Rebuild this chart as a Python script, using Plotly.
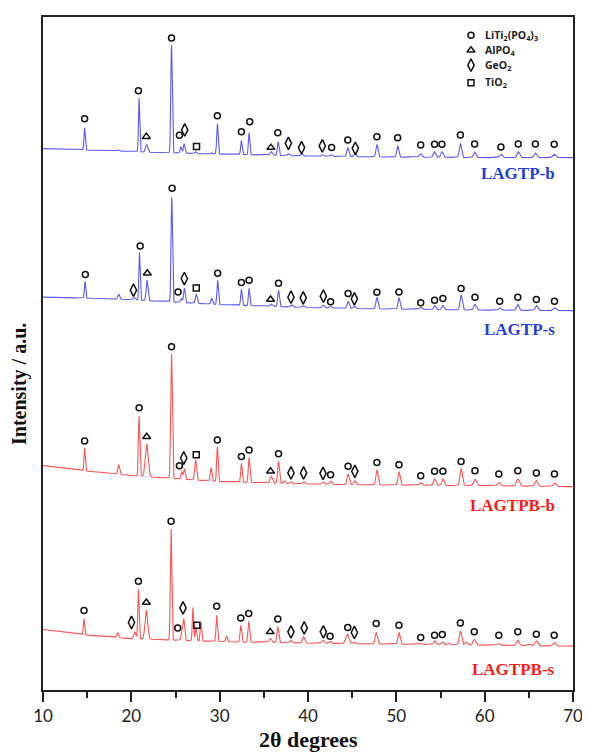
import numpy as np
import plotly.graph_objects as go

# ---------------- data (2theta in degrees, intensity in arbitrary units) ----------------
TWO_THETA_RANGE = [10, 70]
X_TICKS = [10, 20, 30, 40, 50, 60, 70]

SERIES_NAMES = ["LAGTP-b", "LAGTP-s", "LAGTPB-b", "LAGTPB-s"]

# baselines (2theta, intensity) per pattern
BASE_2THETA = [10, 15, 20, 25, 30, 40, 50, 60, 70]
LAGTP_b_base = [543, 541.5, 540, 538.5, 537.5, 535.5, 534.5, 534, 534]
LAGTP_s_base = [394, 393, 391.5, 389, 386.5, 383.5, 382, 381, 380.5]
LAGTPB_b_base = [225, 219.5, 215, 212, 209, 206.5, 205.5, 205, 204]
LAGTPB_s_base = [60.7, 55, 51.5, 50, 48.5, 47, 46, 45, 44]

# peaks: (2theta, apex intensity, width)
LAGTP_b_peaks = [(14.71, 564, 0.07), (18.52, 542, 0.1), (20.88, 594, 0.07), (21.72, 547, 0.12),
                 (24.55, 647, 0.08), (25.6, 545, 0.09), (25.97, 548, 0.09), (27.27, 540, 0.1),
                 (29.03, 539, 0.1), (29.74, 568, 0.08), (32.46, 551, 0.08), (33.33, 559, 0.08),
                 (35.83, 540, 0.12), (36.62, 550, 0.09), (37.78, 538, 0.12), (39.27, 537.5, 0.12),
                 (41.62, 537, 0.12), (42.6, 537, 0.12), (44.5, 544, 0.11), (45.3, 538, 0.11),
                 (47.8, 547, 0.11), (50.15, 546, 0.11), (52.73, 538, 0.13), (54.3, 540, 0.12),
                 (55.16, 540, 0.12), (57.25, 548, 0.12), (58.86, 539.5, 0.13), (61.84, 537.5, 0.14),
                 (63.8, 540, 0.14), (65.74, 538.5, 0.14), (67.87, 537.5, 0.15)]
LAGTP_s_peaks = [(14.76, 410, 0.07), (18.56, 397, 0.1), (20.3, 394, 0.12), (20.92, 439, 0.07),
                 (21.78, 411, 0.1), (24.58, 494, 0.08), (25.66, 393, 0.09), (26.0, 403, 0.09),
                 (27.35, 397, 0.1), (29.1, 393, 0.09), (29.77, 411, 0.08), (32.46, 402, 0.08),
                 (33.33, 403, 0.08), (35.83, 387, 0.12), (36.66, 401, 0.09), (38.15, 386.5, 0.12),
                 (39.46, 386, 0.12), (41.7, 386, 0.12), (42.5, 385, 0.12), (44.54, 390, 0.11),
                 (45.25, 385, 0.11), (47.8, 394, 0.11), (50.3, 393.5, 0.11), (52.76, 384, 0.13),
                 (54.33, 385.7, 0.12), (55.27, 385.7, 0.12), (57.33, 396, 0.12), (58.9, 386.7, 0.13),
                 (61.7, 383.3, 0.14), (63.75, 386.7, 0.14), (65.85, 385.7, 0.14), (67.9, 383.3, 0.15)]
LAGTPB_b_peaks = [(14.71, 243, 0.07), (18.56, 226, 0.1), (20.88, 275, 0.08), (21.74, 247, 0.16),
                  (24.55, 337, 0.09), (25.7, 219, 0.09), (26.0, 222, 0.09), (27.27, 231, 0.1),
                  (29.03, 223, 0.09), (29.74, 244, 0.08), (32.46, 227.3, 0.08), (33.33, 233.3, 0.09),
                  (35.83, 214.3, 0.13), (36.66, 229.3, 0.1), (37.33, 210, 0.1), (38.07, 209, 0.12),
                  (39.5, 209, 0.12), (41.7, 209, 0.12), (42.56, 209.7, 0.12), (44.54, 216.7, 0.12),
                  (45.3, 210, 0.11), (47.8, 220.7, 0.12), (50.3, 219, 0.12), (52.76, 208.3, 0.13),
                  (54.33, 211.7, 0.12), (55.27, 211.7, 0.12), (57.33, 222.3, 0.13), (58.9, 211.7, 0.14),
                  (61.6, 208.3, 0.14), (63.75, 211.7, 0.15), (65.85, 210, 0.15), (67.9, 207.7, 0.15)]
LAGTPB_s_peaks = [(14.64, 71.7, 0.07), (18.45, 57.7, 0.09), (20.4, 58.3, 0.12), (20.8, 100.7, 0.07),
                  (21.7, 80, 0.15), (24.5, 161.7, 0.08), (25.7, 56.7, 0.09), (25.93, 71.7, 0.09),
                  (26.97, 82.7, 0.07), (27.3, 63.3, 0.08), (27.87, 68.3, 0.08), (29.66, 75, 0.08),
                  (30.78, 54, 0.09), (32.39, 65, 0.09), (33.29, 69, 0.09), (35.72, 51.7, 0.13),
                  (36.58, 63.3, 0.1), (38.07, 50, 0.12), (39.5, 53.3, 0.12), (41.7, 50, 0.12),
                  (42.5, 49, 0.12), (44.45, 56, 0.18), (45.25, 48.3, 0.11), (47.72, 57.7, 0.12),
                  (50.3, 57.7, 0.12), (52.76, 46.7, 0.13), (54.33, 49.3, 0.12), (55.2, 48.3, 0.12),
                  (55.95, 47, 0.12), (57.25, 59.3, 0.13), (57.9, 48, 0.12), (58.82, 50.7, 0.14),
                  (61.6, 46.7, 0.14), (63.75, 50, 0.15), (65.0, 46, 0.14), (65.85, 49.3, 0.15),
                  (67.87, 47.7, 0.15)]

# phase markers: (2theta, intensity)
LAGTP_b_LTP = [(14.71, 573), (20.8, 601), (24.55, 654), (25.44, 556.3), (29.74, 576), (32.46, 560),
               (33.4, 570), (36.58, 559), (42.67, 544), (44.5, 551.7), (47.8, 555), (50.15, 554),
               (52.76, 546.7), (54.33, 547.3), (55.16, 547.3), (57.25, 556.7), (58.86, 547.7),
               (61.84, 544.7), (63.8, 547.7), (65.74, 547.7), (67.87, 547.3)]
LAGTP_b_AlPO4 = [(21.7, 555), (35.8, 544)]
LAGTP_b_GeO2 = [(26.04, 561.7), (37.78, 548.3), (39.27, 544), (41.62, 545.7), (45.36, 543.3)]
LAGTP_b_TiO2 = [(27.38, 545)]

LAGTP_s_LTP = [(14.79, 416.7), (21.0, 445.3), (24.62, 503.3), (25.29, 399.3), (29.77, 418),
               (32.46, 408.7), (33.33, 411), (36.66, 408), (42.56, 389.3), (44.54, 397.7), (47.8, 399),
               (50.3, 399.3), (52.76, 388.3), (54.33, 391), (55.27, 392.7), (57.33, 402.7), (58.9, 394),
               (61.7, 390), (63.75, 394), (65.85, 391.7), (67.9, 390)]
LAGTP_s_AlPO4 = [(21.81, 418), (35.76, 391.7)]
LAGTP_s_GeO2 = [(20.24, 401), (26.0, 412.7), (38.07, 394), (39.46, 393.3), (41.74, 395), (45.25, 392.3)]
LAGTP_s_TiO2 = [(27.35, 403.3)]

LAGTPB_b_LTP = [(14.71, 249.7), (20.88, 283), (24.55, 344.3), (25.44, 225), (29.74, 250.7),
                (32.46, 234.3), (33.33, 240.7), (36.66, 237), (42.56, 216), (44.54, 224.3),
                (47.8, 228.3), (50.3, 226), (52.76, 215), (54.33, 219.3), (55.27, 219.3),
                (57.33, 229.3), (58.9, 220), (61.6, 216.7), (63.75, 220), (65.85, 217.7), (67.9, 216.7)]
LAGTPB_b_AlPO4 = [(21.74, 254), (35.76, 219.3)]
LAGTPB_b_GeO2 = [(25.93, 232.7), (38.07, 217.7), (39.5, 217.7), (41.7, 217.3), (45.3, 219.3)]
LAGTPB_b_TiO2 = [(27.35, 236)]

LAGTPB_s_LTP = [(14.64, 79.7), (20.8, 109), (24.5, 169.3), (25.25, 62.3), (29.66, 84), (32.39, 72.3),
                (33.29, 76.7), (36.58, 71.3), (42.5, 54), (44.5, 62.7), (47.72, 66.7), (50.3, 65),
                (52.76, 52.7), (54.33, 55), (55.2, 55.7), (57.25, 67.3), (58.82, 58.3), (61.6, 55),
                (63.75, 58.3), (65.85, 56), (67.87, 55)]
LAGTPB_s_AlPO4 = [(21.7, 87.7), (35.72, 58.3)]
LAGTPB_s_GeO2 = [(20.02, 67.7), (25.85, 82.3), (38.07, 58.3), (39.57, 62.3), (41.74, 58.3), (45.25, 57.7)]
LAGTPB_s_TiO2 = [(27.42, 65)]

PHASE_LABELS = ["LiTi<sub>2</sub>(PO<sub>4</sub>)<sub>3</sub>", "AlPO<sub>4</sub>",
                "GeO<sub>2</sub>", "TiO<sub>2</sub>"]

# ---------------- build figure ----------------
BLUE_LINE = "#5a5af2"
RED_LINE = "#ff5252"
BLUE_TXT = "#1e40d8"
RED_TXT = "#ff1a1a"

patterns = [
    (LAGTP_b_base, LAGTP_b_peaks, BLUE_LINE),
    (LAGTP_s_base, LAGTP_s_peaks, BLUE_LINE),
    (LAGTPB_b_base, LAGTPB_b_peaks, RED_LINE),
    (LAGTPB_s_base, LAGTPB_s_peaks, RED_LINE),
]

x = np.linspace(10, 70, 4001)
fig = go.Figure()
for base, peaks, col in patterns:
    y = np.interp(x, BASE_2THETA, base)
    for pos, top, sig in peaks:
        h = top - np.interp(pos, BASE_2THETA, base)
        y = y + h * np.exp(-0.5 * ((x - pos) / sig) ** 2)
    fig.add_trace(go.Scatter(x=x, y=y, mode="lines", line=dict(color=col, width=1.1),
                             showlegend=False, hoverinfo="skip"))

phase_sets = [
    (LAGTP_b_LTP + LAGTP_s_LTP + LAGTPB_b_LTP + LAGTPB_s_LTP, "circle-open", 6),
    (LAGTP_b_AlPO4 + LAGTP_s_AlPO4 + LAGTPB_b_AlPO4 + LAGTPB_s_AlPO4, "triangle-up-open", 7),
    (LAGTP_b_GeO2 + LAGTP_s_GeO2 + LAGTPB_b_GeO2 + LAGTPB_s_GeO2, "diamond-tall-open", 9),
    (LAGTP_b_TiO2 + LAGTP_s_TiO2 + LAGTPB_b_TiO2 + LAGTPB_s_TiO2, "square-open", 6),
]
MARK_COL = "#111111"
for pts, sym, sz in phase_sets:
    fig.add_trace(go.Scatter(x=[p[0] for p in pts], y=[p[1] for p in pts], mode="markers",
                             marker=dict(symbol=sym, size=sz, color=MARK_COL,
                                         line=dict(color=MARK_COL, width=1.5)),
                             showlegend=False, hoverinfo="skip"))

# legend key (overlay axes in 0..1 units)
LEG_X = 0.8075
LEG_Y = [0.973, 0.9507, 0.9284, 0.9022]
for (pts, sym, sz), ly, lab in zip(phase_sets, LEG_Y, PHASE_LABELS):
    fig.add_trace(go.Scatter(x=[LEG_X], y=[ly], mode="markers", xaxis="x2", yaxis="y2",
                             marker=dict(symbol=sym, size=sz, color=MARK_COL,
                                         line=dict(color=MARK_COL, width=1.5)),
                             showlegend=False, hoverinfo="skip"))
    fig.add_annotation(x=0.83, y=ly, xref="paper", yref="paper", text="<b>" + lab + "</b>",
                       showarrow=False, xanchor="left", yanchor="middle",
                       font=dict(family="Open Sans", size=10.5, color="#222"))

# series labels
LABEL_Y = [0.768, 0.535, 0.274, 0.03]
for name, ly, col in zip(SERIES_NAMES, LABEL_Y, [BLUE_TXT, BLUE_TXT, RED_TXT, RED_TXT]):
    fig.add_annotation(x=0.97, y=ly, xref="paper", yref="paper", text="<b>" + name + "</b>",
                       showarrow=False, xanchor="right", yanchor="middle",
                       font=dict(family="Liberation Serif", size=17, color=col))

# axis titles
fig.add_annotation(x=0.5, y=-0.073, xref="paper", yref="paper", text="<b>2θ degrees</b>",
                   showarrow=False, xanchor="center", yanchor="middle",
                   font=dict(family="Liberation Serif", size=22, color="#111"))
fig.add_annotation(x=-0.043, y=0.455, xref="paper", yref="paper", text="<b>Intensity / a.u.</b>",
                   showarrow=False, xanchor="center", yanchor="middle", textangle=-90,
                   font=dict(family="Liberation Serif", size=20, color="#111"))

# the page body adds an 8 px offset, so the figure is 8 px smaller than the window
fig.update_layout(
    width=582, height=744,
    margin=dict(l=35, r=12, t=7, b=62),
    paper_bgcolor="white", plot_bgcolor="white",
    showlegend=False,
    xaxis=dict(range=TWO_THETA_RANGE, tickvals=X_TICKS, ticks="outside", ticklen=10, tickwidth=1.5,
               tickcolor="#222", showline=True, linecolor="#222", linewidth=2, mirror=True,
               showgrid=False, zeroline=False,
               minor=dict(dtick=5, tick0=10, ticks="outside", ticklen=6, tickwidth=1.5, tickcolor="#222"),
               tickfont=dict(family="Lato", size=17, color="#222")),
    yaxis=dict(range=[0, 675], showticklabels=False, ticks="", showline=True, linecolor="#222",
               linewidth=2, mirror=True, showgrid=False, zeroline=False),
    xaxis2=dict(overlaying="x", range=[0, 1], visible=False),
    yaxis2=dict(overlaying="y", range=[0, 1], visible=False),
)

fig.write_html("out.html")
